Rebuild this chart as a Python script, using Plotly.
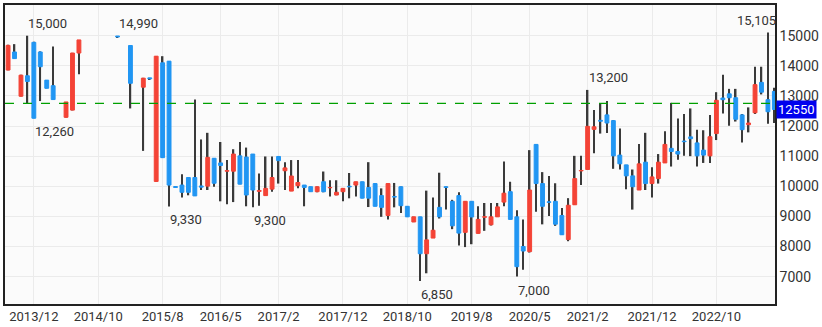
import plotly.graph_objects as go

# ---------------- data (monthly OHLC) ----------------
months = ["2013/8", "2013/9", "2013/10", "2013/11", "2013/12", "2014/1", "2014/2", "2014/3",
          "2014/5", "2014/6", "2014/7", "2015/1", "2015/3", "2015/5", "2015/6", "2015/7",
          "2015/8", "2015/9", "2015/10", "2015/11", "2015/12", "2016/1", "2016/2", "2016/3",
          "2016/4", "2016/5", "2016/6", "2016/7", "2016/8", "2016/9", "2016/10", "2016/11",
          "2016/12", "2017/1", "2017/2", "2017/3", "2017/4", "2017/5", "2017/6", "2017/7",
          "2017/8", "2017/9", "2017/10", "2017/11", "2017/12", "2018/1", "2018/2", "2018/3",
          "2018/4", "2018/5", "2018/6", "2018/7", "2018/8", "2018/9", "2018/10", "2018/11",
          "2018/12", "2019/1", "2019/2", "2019/3", "2019/4", "2019/5", "2019/6", "2019/7",
          "2019/8", "2019/9", "2019/10", "2019/11", "2019/12", "2020/1", "2020/2", "2020/3",
          "2020/4", "2020/5", "2020/6", "2020/7", "2020/8", "2020/9", "2020/10", "2020/11",
          "2020/12", "2021/1", "2021/2", "2021/3", "2021/4", "2021/5", "2021/6", "2021/7",
          "2021/8", "2021/9", "2021/10", "2021/11", "2021/12", "2022/1", "2022/2", "2022/3",
          "2022/4", "2022/5", "2022/6", "2022/7", "2022/8", "2022/9", "2022/10", "2022/11",
          "2022/12", "2023/1", "2023/2", "2023/3", "2023/4", "2023/5", "2023/6", "2023/7"]

opens = [13860, 14460, 12990, 13670, 14780, 14460, 13525, 13340,
         12290, 12530, 14425, 14990, 14675, 13290, 13600, 10160,
         14100, 14155, 9990, 10040, 10290, 10290, 10010, 10005,
         10930, 10775, 10500, 10500, 11010, 10970, 11070, 9830,
         9690, 9905, 10990, 10515, 9840, 10020, 10040, 9985,
         9820, 10150, 9950, 9710, 9820, 10000, 10040, 10150,
         9960, 10090, 9690, 9030, 9660, 9985, 9335, 8815,
         8985, 7760, 8280, 9300, 9985, 9500, 9690, 8470,
         9500, 8435, 8970, 8720, 8985, 9475, 9820, 8985,
         8000, 7830, 11390, 10090, 9485, 9500, 9030, 8230,
         9385, 10510, 10557, 11890, 12190, 12370, 12180, 11035,
         10710, 10345, 9875, 10800, 10090, 10255, 10775, 11260,
         11155, 11500, 11640, 11440, 11200, 11010, 11750, 12930,
         13070, 12940, 12370, 12045, 12440, 13450, 12875, 13150]

highs = [14700, 14720, 13700, 15000, 14800, 14480, 13530, 14640,
         12800, 14430, 14860, 14990, 14680, 13600, 13600, 14320,
         14320, 14160, 9990, 10395, 10290, 12880, 11555, 11775,
         10930, 11470, 10870, 11230, 11470, 11285, 11070, 10420,
         10990, 10990, 10990, 10800, 10870, 10870, 10040, 9990,
         9990, 10490, 10200, 10200, 9930, 10440, 10150, 10150,
         10800, 10100, 9930, 10090, 10110, 9990, 9335, 8990,
         8990, 9855, 9630, 10450, 9990, 9550, 9800, 9500,
         9500, 9335, 9445, 9445, 9445, 10820, 10150, 9200,
         8900, 11200, 11390, 10470, 10340, 10100, 9280, 9605,
         11010, 11010, 13200, 12530, 12750, 12830, 12200, 11920,
         10710, 10557, 11400, 11775, 10635, 11070, 11825, 12770,
         12250, 12400, 12585, 11880, 11860, 12370, 13125, 13700,
         13235, 13235, 12400, 12620, 13970, 13970, 15105, 13270]

lows = [13850, 14240, 12980, 12750, 12260, 12830, 13250, 12875,
        12280, 12520, 13720, 14950, 12585, 11175, 13560, 10150,
        10940, 9330, 9960, 9630, 9700, 9680, 9875, 9875,
        9985, 9500, 9400, 9475, 10070, 9335, 9300, 9350,
        9690, 9820, 10090, 9875, 9840, 9930, 9335, 9820,
        9800, 9800, 9660, 9700, 9500, 9600, 9660, 9600,
        9310, 9335, 8985, 8900, 9300, 9115, 8985, 8810,
        6850, 7110, 8280, 8930, 9225, 8575, 8035, 7980,
        8075, 8435, 8520, 8700, 8985, 9335, 8900, 7000,
        7230, 7800, 9150, 8735, 9010, 8685, 8390, 8175,
        9385, 10040, 10557, 11100, 11750, 11770, 10580, 10557,
        9900, 9225, 9875, 9875, 9625, 10090, 10775, 10655,
        10880, 11010, 11000, 10655, 10775, 10775, 11535, 12420,
        12010, 12150, 11450, 11790, 12400, 13050, 12075, 12100]

closes = [14680, 14240, 13690, 13480, 12260, 13970, 13255, 12880,
          12800, 14425, 14860, 14960, 13420, 13590, 13570, 14320,
          10950, 10040, 9960, 9800, 9800, 9680, 9970, 10960,
          10100, 10690, 10520, 11070, 10070, 9710, 9875, 9860,
          9930, 10290, 10850, 10610, 10340, 10125, 9960, 9820,
          9985, 9820, 9960, 9800, 9930, 9980, 10150, 9605,
          9605, 9335, 9300, 10090, 9640, 9355, 8985, 8985,
          7760, 8220, 8540, 8985, 9960, 8685, 8445, 9500,
          8980, 8900, 8990, 8985, 9315, 9770, 8900, 7330,
          7850, 9875, 10090, 9335, 9465, 8740, 8390, 9370,
          10255, 10525, 11990, 11975, 12160, 12100, 11010, 10745,
          10345, 9985, 10745, 10090, 10310, 10800, 11390, 11155,
          11070, 11480, 11580, 11010, 11035, 11645, 12855, 12875,
          12940, 12225, 11880, 12100, 13375, 13125, 12475, 12550]

tick_months = ["2013/12", "2014/10", "2015/8", "2016/5", "2017/2", "2017/12",
               "2018/10", "2019/8", "2020/5", "2021/2", "2021/12", "2022/10"]
y_ticks = [7000, 8000, 9000, 10000, 11000, 12000, 13000, 14000, 15000]

label_months = ["2013/11", "2013/12", "2015/1", "2015/9", "2016/10",
                "2018/12", "2020/3", "2021/2", "2023/6"]
label_values = [15000, 12260, 14990, 9330, 9300, 6850, 7000, 13200, 15105]

last_price = 12550
ref_level = 12750

# ---------------- helpers ----------------
def month_index(m):
    y, mo = (int(v) for v in m.split("/"))
    return (y - 2013) * 12 + mo - 12

RED = "#f44336"
BLUE = "#2196f3"
FONT = "Roboto"

x = [month_index(m) for m in months]
X_MIN, X_MAX = -4.48, 115.1

colors = [RED if c >= o else BLUE for o, c in zip(opens, closes)]

fig = go.Figure()
# wicks (thin bars, drawn first so bodies sit on top)
fig.add_trace(go.Bar(x=x, y=[h - l for h, l in zip(highs, lows)], base=lows,
                     width=0.24, marker=dict(color="#3a3a3a", line=dict(width=0)),
                     hoverinfo="skip", showlegend=False))
# bodies
fig.add_trace(go.Bar(x=x,
                     y=[abs(c - o) for o, c in zip(opens, closes)],
                     base=[min(o, c) for o, c in zip(opens, closes)],
                     width=0.6,
                     marker=dict(color=colors, line=dict(color=colors, width=1)),
                     showlegend=False))

annotations = []
for m, v in zip(label_months, label_values):
    i = months.index(m)
    xi = x[i]
    above = v >= highs[i]
    ann = dict(x=xi, y=v, xref="x", yref="y", text=f"{v:,}", showarrow=False,
               xanchor="left", yanchor="bottom" if above else "top",
               yshift=3 if above else -4, xshift=-1,
               font=dict(family=FONT, size=13, color="#333333"))
    if xi > X_MAX - 6:
        ann.update(x=1, xref="paper", xanchor="right", xshift=3)
    annotations.append(ann)

annotations.append(dict(x=1, y=last_price, xref="paper", yref="y", text=str(last_price),
                        showarrow=False, xanchor="left", yanchor="middle", xshift=1,
                        bgcolor="#0000ee", borderpad=1,
                        font=dict(family=FONT, size=13, color="white")))

fig.update_layout(
    width=822, height=327,
    margin=dict(l=3, r=44, t=3, b=19, pad=0),
    paper_bgcolor="white", plot_bgcolor="#fbfbfb",
    barmode="overlay", showlegend=False,
    annotations=annotations,
    shapes=[dict(type="line", xref="paper", x0=0, x1=1, yref="y", y0=ref_level, y1=ref_level,
                 line=dict(color="#00a000", width=1.3, dash="dash"))],
    font=dict(family=FONT, size=13, color="#333333"),
)
fig.update_xaxes(range=[X_MIN, X_MAX], tickvals=[month_index(m) for m in tick_months],
                 ticktext=tick_months, showgrid=True, gridcolor="#ebebeb", gridwidth=1,
                 zeroline=False, showline=True, mirror=True, linecolor="#222222", linewidth=1.5,
                 ticks="", tickfont=dict(family=FONT, size=13, color="#333333"))
fig.update_yaxes(range=[6090, 16020], side="right", tickvals=y_ticks,
                 ticktext=[str(v) for v in y_ticks], showgrid=True, gridcolor="#ebebeb",
                 zeroline=False, showline=True, mirror=True, linecolor="#222222", linewidth=1.5,
                 ticks="", tickfont=dict(family=FONT, size=14, color="#333333"))

fig.write_html("out.html")
